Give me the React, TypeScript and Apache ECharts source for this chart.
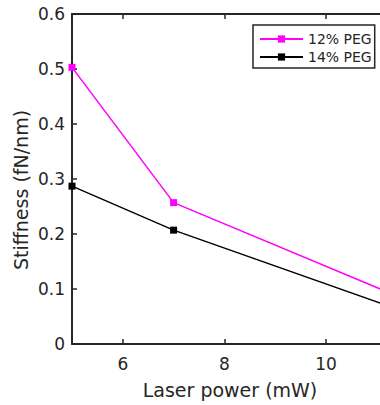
import React, { useEffect, useRef } from "react";
import * as echarts from "echarts";

const xValues = [5, 7, 12];
const peg12 = [0.503, 0.257, 0.064];
const peg14 = [0.287, 0.207, 0.044];
const xTicks = [6, 8, 10];
const seriesNames = ["12% PEG", "14% PEG"];
const xTitle = "Laser power (mW)";
const yTitle = "Stiffness (fN/nm)";

const FONT = "DejaVu Sans";
const AXIS_COLOR = "#262626";

export default function App() {
  const ref = useRef<HTMLDivElement>(null);
  useEffect(() => {
    document.body.style.margin = "0";
    const chart = echarts.init(ref.current!, null, { renderer: "svg" });
    const axisCommon = {
      type: "value" as const,
      min: 5,
      max: 11.064,
      axisLine: { show: true, lineStyle: { color: AXIS_COLOR, width: 2 } },
      axisTick: {
        show: true,
        inside: true,
        length: 5,
        customValues: xTicks,
        lineStyle: { color: AXIS_COLOR, width: 1.5 },
      },
      splitLine: { show: false },
    };
    chart.setOption({
      animation: false,
      backgroundColor: "#ffffff",
      grid: { left: 72, top: 14, right: 0, height: 330, containLabel: false },
      xAxis: [
        {
          ...axisCommon,
          position: "bottom",
          axisLabel: {
            show: true,
            customValues: xTicks,
            margin: 11,
            color: AXIS_COLOR,
            fontFamily: FONT,
            fontSize: 17,
          },
        },
        {
          ...axisCommon,
          position: "top",
          axisLabel: { show: false },
        },
      ],
      yAxis: {
        type: "value",
        min: 0,
        max: 0.6,
        interval: 0.1,
        axisLine: { show: true, lineStyle: { color: AXIS_COLOR, width: 2 } },
        axisTick: { show: true, inside: true, length: 5, lineStyle: { color: AXIS_COLOR, width: 1.5 } },
        splitLine: { show: false },
        axisLabel: {
          margin: 7,
          color: AXIS_COLOR,
          fontFamily: FONT,
          fontSize: 17,
          formatter: (v: number) => (v === 0 ? "0" : v.toFixed(1)),
        },
      },
      legend: {
        orient: "vertical",
        left: 253,
        top: 25,
        backgroundColor: "#ffffff",
        borderColor: AXIS_COLOR,
        borderWidth: 1.5,
        borderRadius: 0,
        padding: [7, 3, 4, 6],
        itemWidth: 43,
        itemHeight: 9,
        itemGap: 4,
        textStyle: { fontFamily: FONT, fontSize: 14, color: AXIS_COLOR },
        data: seriesNames,
      },
      graphic: [
        {
          type: "text",
          x: 230,
          y: 390,
          style: {
            text: xTitle,
            fontFamily: FONT,
            fontSize: 19,
            fill: AXIS_COLOR,
            textAlign: "center",
            textVerticalAlign: "middle",
          },
        },
        {
          type: "text",
          x: 20.5,
          y: 190,
          rotation: Math.PI / 2,
          style: {
            text: yTitle,
            fontFamily: FONT,
            fontSize: 19,
            fill: AXIS_COLOR,
            textAlign: "center",
            textVerticalAlign: "middle",
          },
        },
      ],
      series: [
        {
          name: seriesNames[0],
          type: "line",
          data: xValues.map((x, i) => [x, peg12[i]]),
          symbol: "rect",
          symbolSize: 7,
          color: "#ff00ff",
          lineStyle: { color: "#ff00ff", width: 1.5 },
          itemStyle: { color: "#ff00ff" },
          clip: true,
        },
        {
          name: seriesNames[1],
          type: "line",
          data: xValues.map((x, i) => [x, peg14[i]]),
          symbol: "rect",
          symbolSize: 7,
          color: "#000000",
          lineStyle: { color: "#000000", width: 1.5 },
          itemStyle: { color: "#000000" },
          clip: true,
        },
      ],
    });
    return () => chart.dispose();
  }, []);
  return <div ref={ref} style={{ width: 380, height: 405 }} />;
}
